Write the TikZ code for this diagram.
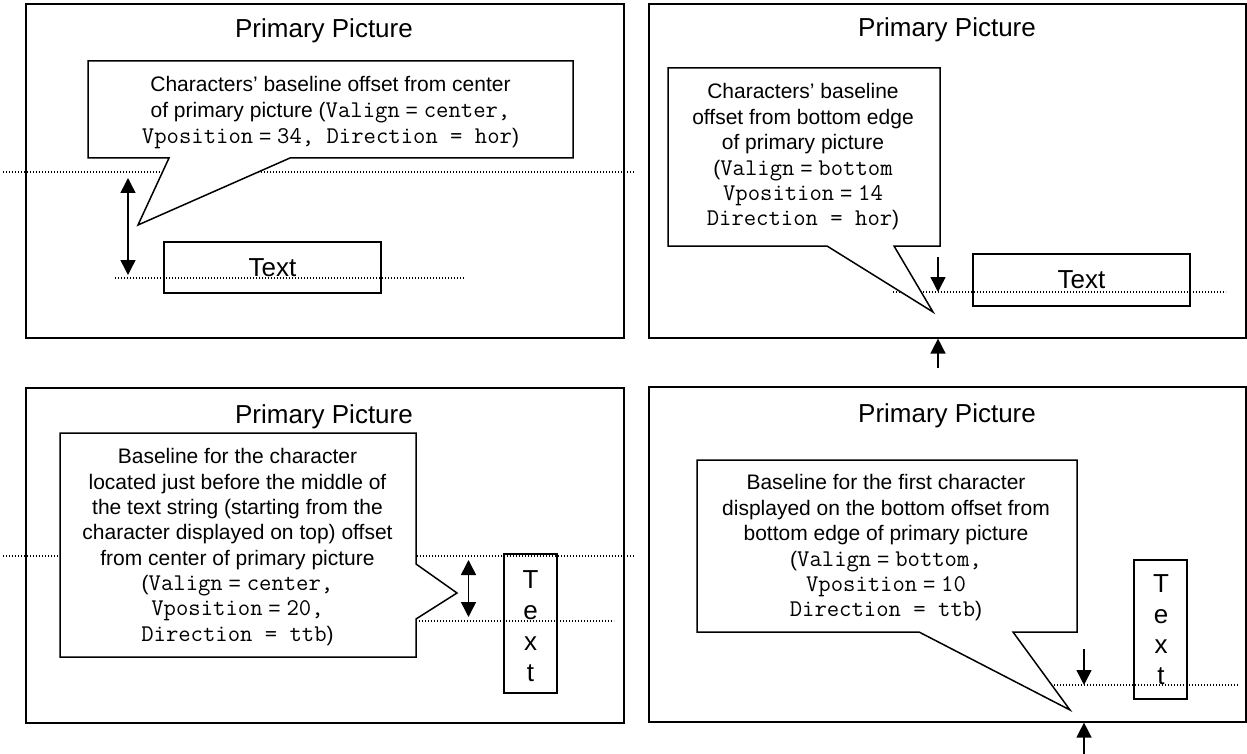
\documentclass[tikz,border=0pt]{standalone}
\usepackage{fontspec}
\setmainfont{Liberation Sans}
\setmonofont[Scale=1.143]{Latin Modern Mono}
\usetikzlibrary{arrows.meta}

\tikzset{
  panel/.style={draw, line width=1.6pt, inner sep=0pt, anchor=north west},
  box/.style={draw, line width=1.5pt, inner sep=0pt, font=\fontsize{26}{31}\selectfont},
  bubble/.style={draw, fill=white, line width=1.5pt, line join=miter},
  guide/.style={line width=1.3pt, dash pattern=on 1.2pt off 1.8pt},
  measure/.style={line width=1.5pt},
  heading/.style={font=\fontsize{26}{31}\selectfont, inner sep=0pt, anchor=base},
  note/.style={align=center, inner sep=0pt, anchor=north},
  letters/.style={align=center, inner sep=0pt, anchor=north}
}

\begin{document}
\begin{tikzpicture}[x=1pt, y=-1pt, >={Triangle[width=15pt,length=15pt]}]
\useasboundingbox (0,0) rectangle (1247,754);
\fill[white] (0,0) rectangle (1247,754);

% ---------- frames of the four primary pictures ----------
\node[panel, minimum width=598pt, minimum height=334pt] (p1) at (25,3) {};
\node[panel, minimum width=597pt, minimum height=334pt] (p2) at (648,3) {};
\node[panel, minimum width=598pt, minimum height=335pt] (p3) at (25,387) {};
\node[panel, minimum width=597pt, minimum height=335pt] (p4) at (648,386) {};

\node[heading] (h1) at (324,38) {Primary Picture};
\node[heading] (h2) at (947,37) {Primary Picture};
\node[heading] (h3) at (324,423) {Primary Picture};
\node[heading] (h4) at (947,422) {Primary Picture};

% ---------- text boxes ----------
\node[box, minimum width=217pt, minimum height=51pt] (s1) at (272.5,267.5) {Text};
\node[box, minimum width=217pt, minimum height=52pt] (s2) at (1081.5,280) {Text};
\node[box, minimum width=53pt, minimum height=139pt] (s3) at (530.5,623.5) {};
\node[box, minimum width=53pt, minimum height=139pt] (s4) at (1160.5,629.5) {};
\node[letters, font=\fontsize{26}{31}\selectfont] (l3) at (530.5,570.5) {T\\e\\x\\t};
\node[letters, font=\fontsize{26}{30.7}\selectfont] (l4) at (1161,574.5) {T\\e\\x\\t};

% ---------- baseline guides ----------
\coordinate (g1a) at (3,172);    \coordinate (g1b) at (634,172);
\coordinate (g1c) at (115,278);  \coordinate (g1d) at (465,278);
\coordinate (g2a) at (893,292);  \coordinate (g2b) at (1226,292);
\coordinate (g3a) at (3,556);    \coordinate (g3b) at (634,556);
\coordinate (g3c) at (380,621);  \coordinate (g3d) at (614,621);
\coordinate (g4a) at (1054,685); \coordinate (g4b) at (1238,685);
\draw[guide] (g1a) -- (g1b);
\draw[guide] (g1c) -- (g1d);
\draw[guide] (g2a) -- (g2b);
\draw[guide] (g3a) -- (g3b);
\draw[guide] (g3c) -- (g3d);
\draw[guide] (g4a) -- (g4b);

% ---------- callouts ----------
\draw[bubble] (88,61) -- (573,61) -- (573,158) -- (290,158) -- (138,225)
  -- (169,158) -- (88,158) -- cycle;
\draw[bubble] (668,68) -- (940,68) -- (940,246) -- (894,246) -- (933,312)
  -- (827,246) -- (668,246) -- cycle;
\draw[bubble] (60,433) -- (416,433) -- (416,564) -- (457,593) -- (416,619)
  -- (416,657) -- (60,657) -- cycle;
\draw[bubble] (697,460) -- (1077,460) -- (1077,632) -- (1013,632) -- (1070,710)
  -- (919,632) -- (697,632) -- cycle;

\node[note, font=\fontsize{21}{26}\selectfont] (n1) at (330.5,76.5)
  {Characters’ baseline offset from center\\
   of primary picture (\texttt{Valign} = \texttt{center,}\\
   \texttt{Vposition} = \texttt{34, Direction = hor})};
\node[note, font=\fontsize{21}{25.4}\selectfont] (n2) at (803,83.5)
  {Characters’ baseline\\
   offset from bottom edge\\
   of primary picture\\
   (\texttt{Valign} = \texttt{bottom}\\
   \texttt{Vposition} = \texttt{14}\\
   \texttt{Direction = hor})};
\node[note, font=\fontsize{21}{25.3}\selectfont] (n3) at (237.5,448.5)
  {Baseline for the character\\
   located just before the middle of\\
   the text string (starting from the\\
   character displayed on top) offset\\
   from center of primary picture\\
   (\texttt{Valign} = \texttt{center,}\\
   \texttt{Vposition} = \texttt{20,}\\
   \texttt{Direction = ttb})};
\node[note, font=\fontsize{21}{25.4}\selectfont] (n4) at (886,474.5)
  {Baseline for the first character\\
   displayed on the bottom offset from\\
   bottom edge of primary picture\\
   (\texttt{Valign} = \texttt{bottom,}\\
   \texttt{Vposition} = \texttt{10}\\
   \texttt{Direction = ttb})};

% ---------- offset markers ----------
\coordinate (m1a) at (128,178); \coordinate (m1b) at (128,275);
\draw[measure, <->] (m1a) -- (m1b);

\coordinate (m2a) at (938,257);
\draw[measure, ->] (m2a) -- (m2a |- g2a);
\coordinate (m2b) at (938,368);
\draw[measure, ->] (m2b) -- (m2b |- p2.south);

\coordinate (m3a) at (468.5,560); \coordinate (m3b) at (468.5,617);
\draw[measure, <->] (m3a) -- (m3b);

\coordinate (m4a) at (1084,649);
\draw[measure, ->] (m4a) -- (m4a |- g4a);
\coordinate (m4b) at (1084,754);
\draw[measure, ->] (m4b) -- (m4b |- p4.south);
\end{tikzpicture}
\end{document}
